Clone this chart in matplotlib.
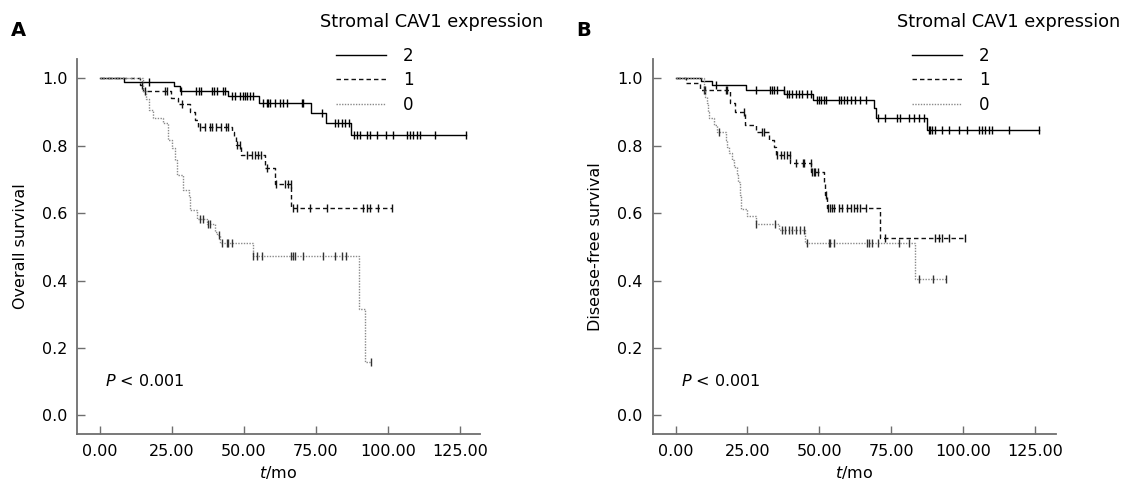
import matplotlib
matplotlib.use("Agg")
import matplotlib.pyplot as plt
import numpy as np

plt.rcParams["font.family"] = ["DejaVu Sans"]
plt.rcParams["mathtext.fontset"] = "dejavusans"

# ---- panel A: overall survival ----
a2_times = [0, 8.4, 25.7, 27.8, 44.5, 55.2, 73.3, 78.4, 87.2]
a2_surv = [1.0, 0.989, 0.978, 0.962, 0.947, 0.927, 0.898, 0.868, 0.832]
a2_end = 127.3
a2_cens = [17.0, 28.1, 33.3, 34.3, 35.1, 38.8, 39.7, 40.6, 42.6, 43.4, 45.7, 46.9, 48.6, 49.5,
           50.3, 51.2, 52.1, 53.2, 56.7, 57.9, 58.4, 59.0, 60.8, 62.5, 63.7, 64.8, 70.0, 70.6,
           77.0, 81.6, 82.8, 83.9, 85.1, 86.5, 88.3, 89.1, 90.3, 92.6, 93.75, 96.1, 99.5, 101.9,
           106.5, 107.6, 108.8, 110.0, 111.1, 116.3, 127.3]

a1_times = [0, 14.0, 15.0, 24.7, 27.0, 31.3, 33.0, 34.2, 45.7, 46.6, 47.4, 48.9, 57.3, 60.8, 66.5]
a1_surv = [1.0, 0.98, 0.962, 0.942, 0.923, 0.90, 0.876, 0.856, 0.841, 0.827, 0.802, 0.772,
           0.733, 0.685, 0.616]
a1_end = 101.3
a1_cens = [14.5, 15.5, 22.5, 23.1, 28.5, 34.9, 36.4, 38.1, 39.0, 40.4, 42.1, 43.9, 44.4, 47.7,
           48.6, 50.9, 52.7, 53.8, 55.0, 55.8, 58.0, 61.2, 64.2, 65.4, 66.2, 67.1, 68.3, 72.9,
           78.7, 91.4, 92.6, 93.75, 96.6, 101.3]

a0_times = [0, 14.8, 16.0, 17.0, 18.3, 22.0, 23.7, 24.9, 26.0, 26.6, 28.9, 31.0, 31.3, 33.6,
            37.0, 39.9, 40.7, 41.7, 53.0, 89.9, 92.0]
a0_surv = [1.0, 0.962, 0.937, 0.906, 0.881, 0.866, 0.817, 0.792, 0.757, 0.713, 0.668, 0.648,
           0.609, 0.584, 0.569, 0.544, 0.535, 0.51, 0.472, 0.315, 0.158]
a0_end = 94.3
a0_cens = [34.7, 35.8, 37.5, 38.3, 41.2, 42.2, 44.0, 44.6, 45.7, 53.2, 54.4, 56.4, 66.5, 67.1,
           67.7, 70.6, 77.5, 81.5, 83.9, 85.6, 94.3]

# ---- panel B: disease-free survival ----
b2_times = [0, 8.7, 12.7, 24.6, 37.8, 47.8, 68.9, 69.8, 87.2]
b2_surv = [1.0, 0.993, 0.980, 0.965, 0.952, 0.936, 0.911, 0.881, 0.846]
b2_end = 126.1
b2_cens = [13.9, 28.0, 32.7, 33.5, 34.3, 35.3, 37.6, 38.8, 39.4, 40.5, 41.7, 42.8, 44.0, 45.7,
           47.1, 49.0, 49.8, 50.6, 51.5, 52.4, 56.7, 57.5, 58.4, 59.4, 60.8, 62.5, 64.2, 66.0,
           70.3, 72.9, 77.0, 78.1, 81.0, 82.8, 84.5, 86.2, 87.9, 88.5, 89.1, 90.3, 92.6, 94.9,
           98.4, 101.3, 105.3, 106.5, 107.6, 108.8, 110.0, 115.7, 126.1]

b1_times = [0, 3.5, 8.4, 18.9, 20.8, 24.3, 28.0, 32.4, 34.1, 35.0, 39.9, 47.1, 51.7, 52.0,
            52.7, 71.2]
b1_surv = [1.0, 0.985, 0.965, 0.926, 0.901, 0.861, 0.841, 0.817, 0.795, 0.772, 0.748, 0.721,
           0.688, 0.653, 0.614, 0.525]
b1_end = 100.7
b1_cens = [10.4, 17.4, 17.9, 23.7, 30.1, 30.9, 35.3, 36.5, 37.6, 38.8, 39.7, 41.7, 44.3, 44.8,
           46.9, 47.5, 48.1, 48.6, 49.5, 52.1, 53.0, 53.8, 54.4, 55.0, 56.7, 57.9, 59.6, 60.8,
           61.9, 63.1, 64.2, 66.0, 72.9, 90.3, 91.4, 92.6, 94.9, 100.7]

b0_times = [0, 9.8, 10.4, 10.9, 11.3, 11.7, 13.5, 14.5, 17.4, 18.0, 18.6, 19.7, 20.3, 21.4,
            21.8, 22.3, 22.8, 24.7, 27.8, 35.9, 45.1, 83.3]
b0_surv = [1.0, 0.965, 0.945, 0.926, 0.90, 0.881, 0.861, 0.841, 0.817, 0.797, 0.777, 0.757,
           0.737, 0.713, 0.693, 0.653, 0.611, 0.591, 0.569, 0.549, 0.51, 0.406]
b0_end = 94.1
b0_cens = [10.0, 15.0, 27.8, 34.7, 37.0, 38.2, 39.4, 40.5, 41.7, 43.4, 44.5, 45.7, 53.2, 53.8,
           55.0, 66.5, 67.3, 68.1, 70.5, 77.6, 81.0, 84.5, 89.5, 94.1]

group_labels = ["2", "1", "0"]
legend_title = "Stromal CAV1 expression"
x_ticks = [0, 25, 50, 75, 100, 125]
y_ticks = [0.0, 0.2, 0.4, 0.6, 0.8, 1.0]

styles = [
    dict(color="#000000", ls="-", lw=1.0),
    dict(color="#111111", ls=(0, (3.2, 2.2)), lw=1.0),
    dict(color="#8a8a8a", ls=(0, (1, 1)), lw=1.0),
]
cens_colors = ["#000000", "#111111", "#333333"]
AXIS_GREY = "#6e6e6e"
FS = 11.5


def km_curve(ax, times, surv, end, cens, style, cens_color):
    t = np.array(times + [end], dtype=float)
    s = np.array(surv + [surv[-1]], dtype=float)
    line, = ax.step(t, s, where="post", **style)
    c = np.array(cens, dtype=float)
    idx = np.searchsorted(np.array(times), c, side="right") - 1
    ax.plot(c, np.array(surv)[idx], ls="none", marker="|", ms=6, mew=1.0, color=cens_color)
    return line


def style_axes(ax, ylabel):
    for side in ["top", "right"]:
        ax.spines[side].set_visible(False)
    for side in ["left", "bottom"]:
        ax.spines[side].set_color(AXIS_GREY)
        ax.spines[side].set_linewidth(1.3)
    ax.set_xlim(-8.0, 132.0)
    ax.set_ylim(-0.055, 1.057)
    ax.set_xticks(x_ticks)
    ax.set_xticklabels([f"{v:.2f}" for v in x_ticks])
    ax.set_yticks(y_ticks)
    ax.set_yticklabels([f"{v:.1f}" for v in y_ticks])
    ax.tick_params(direction="in", length=5.5, width=1.0, color=AXIS_GREY, labelsize=FS, pad=7)
    ax.set_xlabel(r"$t$/mo", fontsize=FS, labelpad=4)
    ax.set_ylabel(ylabel, fontsize=FS, labelpad=10)
    ax.text(0.07, 0.14, r"$P$ < 0.001", transform=ax.transAxes, fontsize=FS, va="center")


fig = plt.figure(figsize=(11.23, 4.88), dpi=100)
W, H = 1123.0, 488.0
ax_a = fig.add_axes([77 / W, 1 - 434 / H, 403 / W, 375 / H])
ax_b = fig.add_axes([652.5 / W, 1 - 434 / H, 403 / W, 375 / H])

panels = [
    (ax_a, "Overall survival", "A",
     [(a2_times, a2_surv, a2_end, a2_cens), (a1_times, a1_surv, a1_end, a1_cens),
      (a0_times, a0_surv, a0_end, a0_cens)], 11, 320, 336),
    (ax_b, "Disease-free survival", "B",
     [(b2_times, b2_surv, b2_end, b2_cens), (b1_times, b1_surv, b1_end, b1_cens),
      (b0_times, b0_surv, b0_end, b0_cens)], 576, 897, 912),
]

for ax, ylab, letter, curves, letter_x, title_x, leg_x in panels:
    handles = []
    for (t, s, e, c), st, cc in zip(curves, styles, cens_colors):
        handles.append(km_curve(ax, t, s, e, c, st, cc))
    style_axes(ax, ylab)
    fig.text(letter_x / W, 1 - 30 / H, letter, fontsize=14, fontweight="bold", va="center")
    fig.text(title_x / W, 1 - 22 / H, legend_title, fontsize=12.8, va="center")
    ax.legend(handles, group_labels, loc="upper left", bbox_to_anchor=(leg_x / W, 1 - 47 / H),
              bbox_transform=fig.transFigure, frameon=False, fontsize=12, borderpad=0,
              borderaxespad=0, handlelength=3.0, handletextpad=1.0, labelspacing=0.38)

fig.savefig("out.png", dpi=100)
